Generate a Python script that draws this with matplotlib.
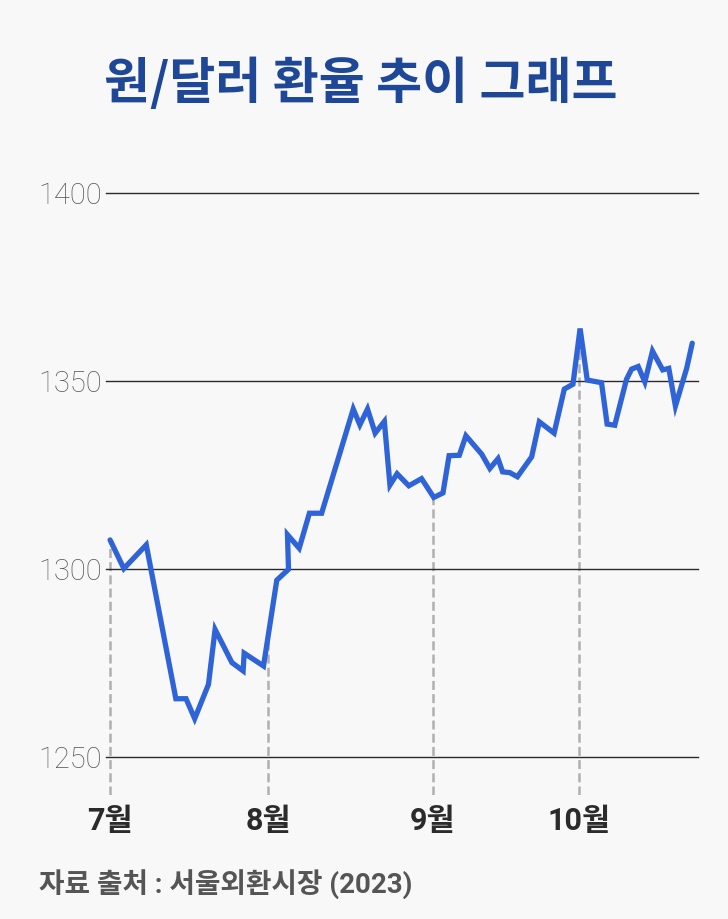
import matplotlib
matplotlib.use('Agg')
import matplotlib.pyplot as plt
import numpy as np

plt.rcParams['font.family'] = ['Roboto', 'Noto Sans CJK KR', 'DejaVu Sans']
plt.rcParams['lines.scale_dashes'] = False

# days since July 1 and won per dollar
days = [0, 2.7, 7.1, 12.9, 14.9, 16.6, 19.3, 20.6, 23.9, 26.1, 26.3, 30.1,
        32.7, 35.0, 34.8, 37.1, 39.1, 41.5, 47.7, 49.0, 50.5, 52.0, 53.8,
        54.9, 56.3, 58.6, 61.1, 63.5, 65.3, 66.5, 68.5, 69.8, 72.9, 74.5,
        76.1, 77.0, 78.4, 79.9, 82.7, 84.2, 87.1, 89.1, 90.8, 92.2, 93.6,
        96.4, 97.5, 99.0, 101.3, 102.3, 103.6, 104.9, 106.4, 108.4, 109.6,
        110.9, 113.1, 114.2]
rate = [1307.8, 1300.2, 1306.5, 1265.6, 1265.6, 1260.3, 1269.4, 1284.0,
        1275.2, 1273.0, 1277.7, 1274.3, 1297.1, 1300.0, 1309.2, 1305.6,
        1314.9, 1314.9, 1342.6, 1338.4, 1342.6, 1336.2, 1339.3, 1322.4,
        1325.4, 1322.2, 1324.1, 1319.1, 1320.3, 1330.2, 1330.3, 1335.5,
        1330.6, 1326.8, 1329.4, 1325.9, 1325.7, 1324.6, 1329.9, 1339.2,
        1336.2, 1347.9, 1349.2, 1364.0, 1350.3, 1349.6, 1338.6, 1338.3,
        1350.5, 1353.2, 1353.9, 1349.8, 1358.0, 1353.0, 1353.4, 1343.4,
        1353.4, 1360.1]

month_pos = [0, 31, 63.3, 92]
month_labels = ['7월', '8월', '9월', '10월']
y_ticks = [1250, 1300, 1350, 1400]

bg = '#f8f8f8'
fig = plt.figure(figsize=(7.28, 9.19), dpi=100, facecolor=bg)
ax = fig.add_axes([0.1456, 0.1349, 0.813, 0.655], facecolor=bg)

# dashed month markers, from the bottom up to the line
order = np.argsort(days, kind='stable')
for m in month_pos:
    top = np.interp(m, np.array(days)[order], np.array(rate)[order])
    ax.plot([m, m], [1240, top], color='#b0b0b0', lw=1.8,
            ls=(0, (6.5, 3)), zorder=1)

for yv in y_ticks:
    ax.axhline(yv, color='#2a2a2a', lw=1.0, zorder=2, clip_on=False)

ax.plot(days, rate, color='#2f63d8', lw=3.8, solid_joinstyle='miter',
        solid_capstyle='round', zorder=3)

ax.set_xlim(-0.8, 115.3)
ax.set_ylim(1240, 1400)
ax.set_yticks(y_ticks)
ax.set_yticklabels([str(v) for v in y_ticks], fontsize=21, color='#585858',
                   fontweight='light')
ax.set_xticks(month_pos)
ax.set_xticklabels(month_labels, fontsize=22, fontweight='bold', color='#2b2b2b')
ax.tick_params(axis='y', length=0, pad=3)
ax.tick_params(axis='x', length=0, pad=8)
for s in ax.spines.values():
    s.set_visible(False)

fig.text(0.495, 0.9086, '원/달러 환율 추이 그래프', ha='center', va='center',
         fontsize=36, fontweight='bold', color='#1f4797',
         family=['Noto Sans CJK KR', 'DejaVu Sans'])
fig.text(0.0536, 0.037, '자료 출처 : 서울외환시장 (2023)', ha='left', va='center',
         fontsize=20, fontweight='bold', color='#555555')

fig.savefig('out.png', dpi=100, facecolor=bg)
